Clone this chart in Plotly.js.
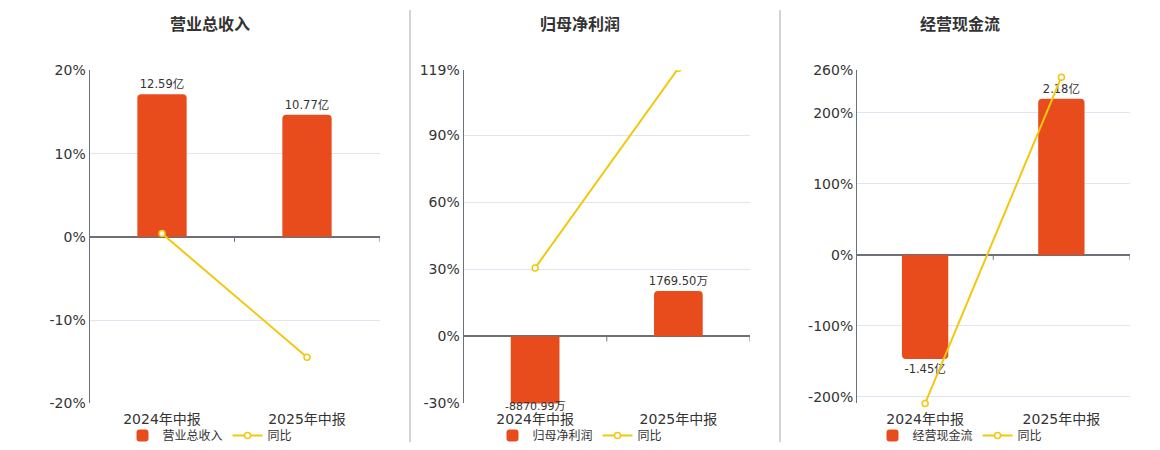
<!DOCTYPE html>
<html>
<head>
<meta charset="utf-8">
<script src="https://cdn.plot.ly/plotly-3.0.1.min.js"></script>
<style>html,body{margin:0;padding:0;background:#fff;}#chart{width:1160px;height:450px;}</style>
</head>
<body>
<div id="chart"></div>
<script>
// ---- data ----
const categories = ['2024年中报', '2025年中报'];
const panelTitles = ['营业总收入', '归母净利润', '经营现金流'];
const revenue = [12.59, 10.77];          // 亿
const revenueYoy = [0.4, -14.46];        // %
const netProfit = [-8870.99, 1769.50];   // 万
const netProfitYoy = [30.6, 119.95];     // %
const cashFlow = [-1.45, 2.18];          // 亿
const cashFlowYoy = [-209.4, 250.3];     // %
const yoyName = '同比';
const tickVals1 = [-20, -10, 0, 10, 20];
const tickVals2 = [-30, 0, 30, 60, 90, 119];
const tickVals3 = [-200, -100, 0, 100, 200, 260];

// ---- style ----
const W = 1160, H = 450;
const FONT = 'DejaVu Sans, Verdana, Noto Sans CJK SC, sans-serif';
const CJK = 'Noto Sans CJK SC, DejaVu Sans, sans-serif';
const BAR = '#E84C1D';
const LINE = '#F2C80F';
const TXT = '#333333';
const AX = '#6E7079';
const GRID = '#E0E6F1';
const px = v => v / W;
const py = v => (H - v) / H;
const yDom = [py(404.3), py(70.5)];

const panels = [
  {vals: revenue, yoy: revenueYoy, unit: '亿', xd: [89.5, 379.5], pr: [-20, 20], br: [-14.7, 14.7], tv: tickVals1, cx: 210, clip: true},
  {vals: netProfit, yoy: netProfitYoy, unit: '万', xd: [463.5, 750], pr: [-30, 119], br: [-2616, 10377], tv: tickVals2, cx: 580, clip: true},
  {vals: cashFlow, yoy: cashFlowYoy, unit: '亿', xd: [857, 1129.5], pr: [-209.4, 260], br: [-2.07, 2.575], tv: tickVals3, cx: 960, clip: false}
];

const fmt = (v, unit) => v.toFixed(2) + unit;

const traces = [];
const layout = {
  width: W, height: H,
  margin: {l: 0, r: 0, t: 0, b: 0},
  paper_bgcolor: '#fff', plot_bgcolor: '#fff',
  font: {family: FONT, color: TXT, size: 12},
  bargap: 0.66,
  barcornerradius: 4,
  showlegend: true,
  annotations: [],
  shapes: []
};

panels.forEach((p, i) => {
  const n = i + 1;
  const xa = n === 1 ? 'x' : 'x' + n;
  const yb = n === 1 ? 'y' : 'y' + n;         // bar axis (hidden)
  const yp = 'y' + (n + 3);                   // percent axis (overlay)
  const lg = n === 1 ? 'legend' : 'legend' + n;

  // bars running past the axis range get their label at the clipped edge
  const texts = p.vals.map(v => (v < p.br[0] || v > p.br[1]) ? '' : fmt(v, p.unit));
  p.vals.forEach((v, k) => {
    if (v < p.br[0] || v > p.br[1]) {
      const low = v < p.br[0];
      layout.annotations.push({
        xref: xa, yref: yb, x: categories[k], y: low ? p.br[0] : p.br[1],
        yanchor: low ? 'top' : 'bottom', xanchor: 'center', yshift: low ? 5 : -5,
        text: fmt(v, p.unit), showarrow: false,
        font: {family: FONT, size: 11, color: TXT}
      });
    }
  });

  traces.push({
    type: 'bar', x: categories, y: p.vals, xaxis: xa, yaxis: yb,
    name: panelTitles[i], legend: lg,
    marker: {color: BAR, line: {width: 0}},
    text: texts, texttemplate: '%{text}', textposition: 'outside', constraintext: 'none',
    textfont: {family: FONT, size: 11.5, color: TXT},
    cliponaxis: false, hoverinfo: 'skip'
  });
  traces.push({
    type: 'scatter', mode: 'lines+markers', x: categories, y: p.yoy,
    xaxis: xa, yaxis: yp, name: yoyName, legend: lg,
    line: {color: LINE, width: 2},
    marker: {symbol: 'circle', size: 6, color: '#fff', line: {color: LINE, width: 1.5}},
    cliponaxis: p.clip, hoverinfo: 'skip'
  });

  layout[n === 1 ? 'xaxis' : 'xaxis' + n] = {
    domain: [px(p.xd[0]), px(p.xd[1])], anchor: yb, type: 'category',
    range: [-0.5, 1.5], showgrid: false, zeroline: false, showline: false,
    ticks: 'outside', ticklen: 3, tickcolor: 'rgba(0,0,0,0)',
    tickfont: {family: FONT, size: 14, color: TXT}, fixedrange: true
  };
  layout[n === 1 ? 'yaxis' : 'yaxis' + n] = {
    domain: yDom, anchor: xa, range: p.br, visible: false, fixedrange: true
  };
  layout['yaxis' + (n + 3)] = {
    overlaying: yb, anchor: xa, side: 'left', range: p.pr,
    tickmode: 'array', tickvals: p.tv, ticktext: p.tv.map(v => v + '%'),
    showgrid: true, gridcolor: GRID, gridwidth: 1,
    zeroline: true, zerolinecolor: AX, zerolinewidth: 2,
    showline: true, linecolor: AX, linewidth: 1,
    ticks: '', tickfont: {family: FONT, size: 14, color: TXT}, fixedrange: true
  };
  layout[lg] = {
    orientation: 'h', x: px(p.cx), xanchor: 'center', y: py(436), yanchor: 'middle',
    font: {family: CJK, size: 12, color: TXT}, bgcolor: 'rgba(0,0,0,0)',
    itemwidth: 30, traceorder: 'normal'
  };
  layout.annotations.push({
    xref: 'paper', yref: 'paper', x: px(p.cx), y: py(23), xanchor: 'center', yanchor: 'middle',
    text: '<b>' + panelTitles[i] + '</b>', showarrow: false,
    font: {family: CJK, size: 16, color: TXT}
  });
  // small category-boundary ticks hanging below the zero line
  [0.5, 1.5].forEach(b => layout.shapes.push({
    type: 'line', xref: xa, yref: yp, x0: b, x1: b,
    ysizemode: 'pixel', yanchor: 0, y0: 0, y1: -5,
    line: {color: AX, width: 1}
  }));
});

[410, 780].forEach(x => layout.shapes.push({
  type: 'line', xref: 'paper', yref: 'paper', x0: px(x), x1: px(x), y0: py(10), y1: py(443),
  line: {color: '#A8A8A8', width: 1}
}));

Plotly.newPlot('chart', traces, layout, {displayModeBar: false, staticPlot: true});
</script>
</body>
</html>
